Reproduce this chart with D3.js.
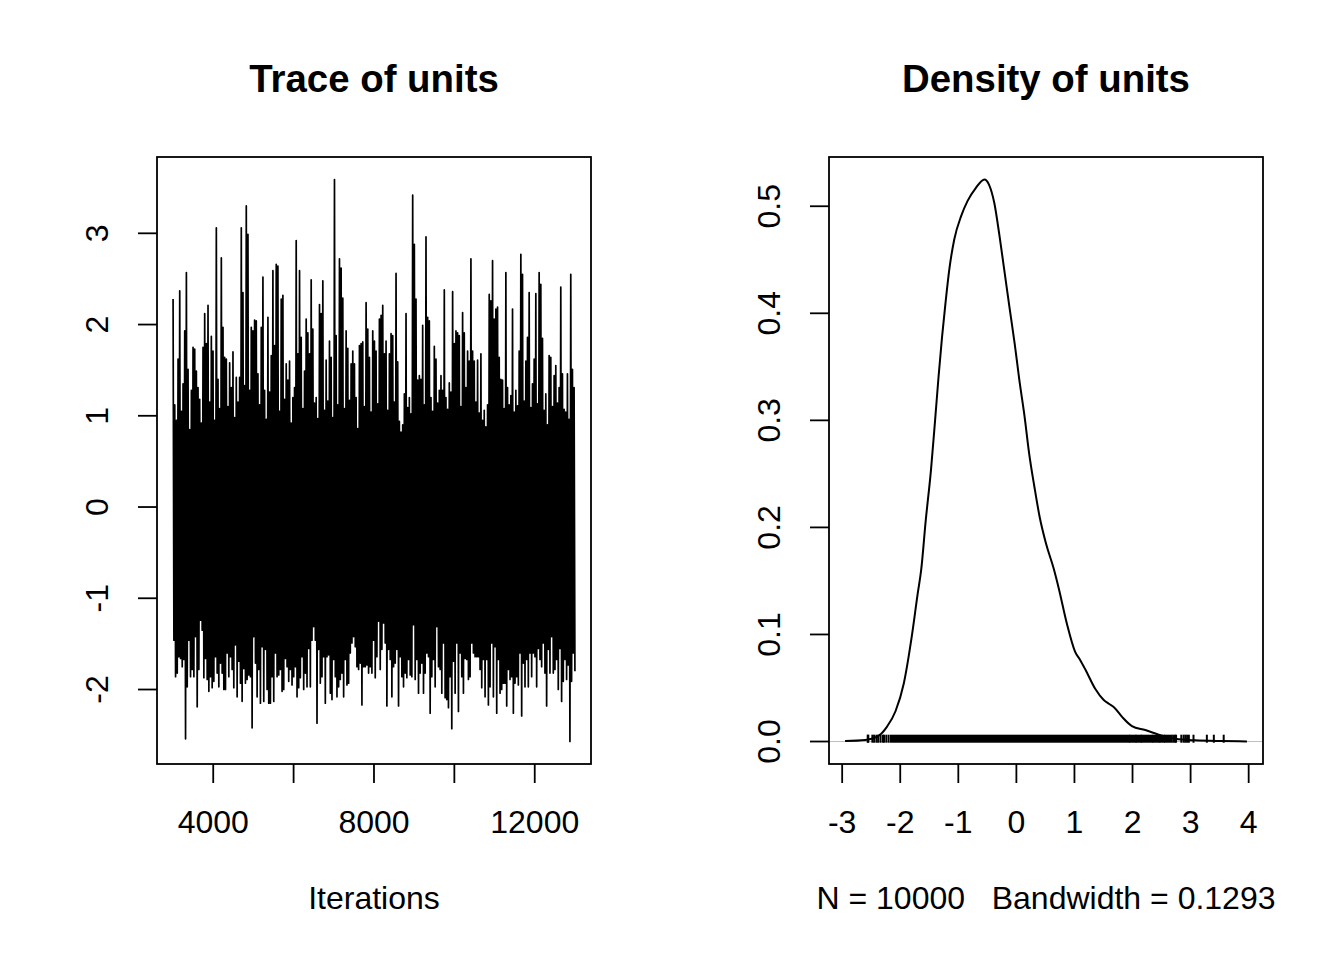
<!DOCTYPE html>
<html><head><meta charset="utf-8">
<script src="https://cdn.jsdelivr.net/npm/d3@7"></script>
<style>
body{margin:0;background:#fff}
text{font-family:"Liberation Sans",Arial,Helvetica,sans-serif;fill:#000}
</style>
</head><body>
<svg id="c" width="1344" height="960"></svg>
<script>
// ---------- DATA ----------
// Trace of units: upper and lower excursions read per column (thinned trace)
const traceHigh = [
2.28,1.12,0.95,1.62,2.37,1.05,1.35,1.93,2.57,1.51,
0.85,1.28,1.75,1.73,1.49,1.31,1.18,0.92,1.75,2.12,
1.79,2.21,1.15,1.87,1.71,0.95,3.06,1.40,1.08,2.73,
1.97,1.64,1.62,1.10,1.58,1.31,1.70,0.98,1.42,1.15,
1.42,3.06,2.35,1.33,3.30,2.99,1.28,1.97,1.93,2.05,
2.04,1.46,1.12,1.97,2.52,1.28,0.96,2.08,1.26,1.66,
2.59,1.77,2.66,2.64,1.05,2.28,2.32,1.18,1.57,1.39,
1.60,0.92,1.20,1.31,2.92,1.68,2.59,1.86,1.08,1.49,
2.06,1.91,1.68,2.49,1.95,1.14,1.20,0.97,2.22,2.12,
2.48,1.06,1.61,1.16,1.82,1.64,0.98,3.59,1.88,1.12,
2.72,2.62,2.29,1.08,1.93,1.74,1.17,1.57,1.71,1.57,
1.20,0.86,1.77,1.79,1.81,1.10,2.24,1.95,1.64,1.04,
1.93,1.82,1.71,1.13,2.06,2.10,2.21,1.68,1.82,1.06,
1.68,1.90,1.88,1.15,2.56,1.59,0.94,0.82,0.90,1.24,
2.12,1.09,1.20,1.02,3.42,2.88,2.28,1.39,1.44,1.40,
1.99,1.12,2.96,2.08,2.04,1.20,1.05,1.76,1.62,1.14,
1.28,1.44,1.28,2.38,1.20,1.07,1.36,1.26,2.36,1.79,
1.93,1.91,1.88,1.10,2.13,1.91,1.31,1.71,1.60,2.72,
1.71,1.60,1.15,1.61,1.03,1.68,0.95,1.06,0.88,1.12,
2.33,2.26,2.70,2.06,2.17,2.19,1.64,1.40,1.39,1.08,
2.57,1.31,1.12,1.22,2.17,1.04,1.28,1.11,1.71,2.77,
2.55,1.16,1.60,1.86,2.35,1.09,1.35,1.62,2.34,1.13,
2.57,2.44,1.85,1.06,1.24,0.90,1.66,1.64,1.10,1.44,
1.55,1.14,1.31,2.41,1.46,1.07,1.04,1.46,0.96,2.55,
1.51,1.31
];
const traceLow = [
-1.46,-1.86,-1.82,-1.64,-1.66,-1.75,-1.67,-2.54,-1.97,-1.46,
-1.86,-1.78,-1.86,-1.42,-2.19,-1.78,-1.24,-1.35,-1.87,-1.66,
-1.89,-2.02,-1.86,-1.98,-1.91,-1.64,-1.82,-1.97,-1.71,-1.82,
-2.00,-2.00,-1.60,-1.86,-1.64,-1.78,-1.98,-1.51,-2.08,-1.69,
-1.93,-2.13,-1.77,-1.93,-1.89,-1.84,-1.86,-2.42,-1.42,-1.71,
-2.08,-1.78,-2.15,-1.53,-2.13,-1.56,-2.00,-2.15,-2.15,-1.86,
-2.13,-1.60,-1.86,-1.84,-1.78,-2.02,-2.00,-1.66,-1.75,-1.91,
-1.78,-1.95,-1.86,-1.75,-2.08,-1.98,-1.87,-1.64,-2.00,-1.82,
-1.97,-1.55,-1.97,-1.46,-1.31,-1.46,-2.37,-1.56,-1.93,-1.86,
-1.64,-2.15,-1.64,-1.62,-2.04,-2.11,-1.67,-1.86,-2.08,-1.97,
-1.89,-1.82,-2.08,-1.67,-1.95,-1.93,-1.60,-1.49,-1.42,-1.53,
-1.75,-1.78,-1.71,-2.17,-1.75,-1.75,-1.73,-1.82,-1.75,-1.82,
-1.46,-1.87,-1.64,-1.25,-1.78,-1.56,-1.27,-1.49,-2.18,-1.56,
-1.67,-2.08,-1.75,-1.71,-1.56,-2.18,-1.64,-1.86,-1.97,-1.82,
-1.87,-1.67,-1.84,-1.86,-1.29,-1.89,-1.67,-2.04,-1.82,-1.71,
-2.04,-1.82,-1.60,-1.64,-2.26,-1.86,-1.67,-1.97,-1.31,-1.75,
-1.78,-2.04,-1.49,-2.09,-2.11,-2.20,-1.86,-2.43,-1.69,-2.04,
-1.49,-2.24,-1.60,-1.86,-2.04,-1.66,-1.67,-1.89,-1.86,-1.49,
-1.60,-1.64,-1.64,-1.64,-1.78,-1.98,-1.67,-2.08,-1.67,-2.17,
-1.97,-1.49,-2.08,-1.53,-2.26,-1.67,-2.04,-2.00,-1.93,-1.93,
-2.18,-1.78,-1.89,-1.86,-2.26,-1.93,-1.86,-1.95,-1.60,-2.29,
-1.71,-1.97,-1.67,-1.97,-1.60,-1.86,-1.60,-1.64,-1.97,-1.55,
-1.67,-1.75,-1.49,-1.82,-2.18,-1.56,-1.82,-1.42,-1.82,-1.78,
-1.67,-2.00,-1.55,-2.13,-1.91,-1.67,-1.89,-1.73,-2.57,-1.91,
-1.60,-1.80
];
const iterStart = 3001, iterEnd = 13000;
const traceXTicks = [4000, 6000, 8000, 10000, 12000];
const traceXLabels = ["4000", "", "8000", "", "12000"];
const traceYTicks = [-2, -1, 0, 1, 2, 3];
const traceYLabels = ["-2", "-1", "0", "1", "2", "3"];

// Density of units
const densX = [-2.95,-2.60,-2.37,-2.23,-2.08,-1.94,-1.80,-1.70,-1.64,-1.56,-1.47,-1.40,-1.34,-1.28,-1.22,-1.155,-1.07,-0.95,-0.84,-0.70,-0.55,-0.47,-0.38,-0.29,-0.21,-0.12,-0.03,0.05,0.14,0.22,0.31,0.40,0.51,0.64,0.73,0.87,1.01,1.10,1.19,1.36,1.50,1.60,1.68,1.82,1.99,2.22,2.51,2.74,3.08,3.54,3.97];
const densY = [0.0005,0.0015,0.0055,0.0137,0.0285,0.054,0.0987,0.138,0.160,0.207,0.254,0.300,0.341,0.378,0.410,0.441,0.469,0.491,0.505,0.517,0.525,0.520,0.503,0.472,0.441,0.406,0.372,0.338,0.304,0.269,0.238,0.210,0.185,0.162,0.143,0.110,0.084,0.076,0.067,0.049,0.039,0.035,0.032,0.023,0.0144,0.0107,0.0055,0.0026,0.0011,0.0004,0.0001];
const densXTicks = [-3, -2, -1, 0, 1, 2, 3, 4];
const densXLabels = ["-3", "-2", "-1", "0", "1", "2", "3", "4"];
const densYTicks = [0, 0.1, 0.2, 0.3, 0.4, 0.5];
const densYLabels = ["0.0", "0.1", "0.2", "0.3", "0.4", "0.5"];
const rugSparse = [-2.56,-2.55,-2.48,-2.45,-2.41,-2.38,-2.34,-2.30,-2.28,-2.24,-2.20,
                   2.70,2.73,2.75,2.84,2.88,2.91,2.94,2.97,3.05,3.28,3.40,3.57];
const rugDense = [[-2.16,1.94],[1.96,2.05],[2.07,2.14],[2.16,2.34],[2.36,2.46],[2.48,2.54],[2.56,2.67]];
const nObs = 10000, bandwidth = 0.1293;
const titles = ["Trace of units", "Density of units"];

// ---------- LAYOUT ----------
const svg = d3.select("#c");
const P1 = {l:157, r:591, t:157, b:764};
const P2 = {l:829, r:1263, t:157, b:764};
const LW = 1.8, TICK = 19, FS = 32;
const pad = e => { const d = e[1]-e[0]; return [e[0]-0.04*d, e[1]+0.04*d]; };

function box(P){
  svg.append("rect").attr("x",P.l).attr("y",P.t).attr("width",P.r-P.l).attr("height",P.b-P.t)
    .attr("fill","none").attr("stroke","#000").attr("stroke-width",LW);
}
function xAxis(P, x, ticks, labels){
  const g = svg.append("g");
  g.selectAll("line").data(ticks).join("line")
    .attr("x1",d=>x(d)).attr("x2",d=>x(d)).attr("y1",P.b).attr("y2",P.b+TICK)
    .attr("stroke","#000").attr("stroke-width",LW);
  g.selectAll("text").data(ticks).join("text")
    .attr("x",d=>x(d)).attr("y",P.b+69).attr("text-anchor","middle")
    .attr("font-size",FS).text((d,i)=>labels[i]);
}
function yAxis(P, y, ticks, labels){
  const g = svg.append("g");
  g.selectAll("line").data(ticks).join("line")
    .attr("x1",P.l).attr("x2",P.l-TICK).attr("y1",d=>y(d)).attr("y2",d=>y(d))
    .attr("stroke","#000").attr("stroke-width",LW);
  g.selectAll("text").data(ticks).join("text")
    .attr("transform",d=>`translate(${P.l-49},${y(d)}) rotate(-90)`)
    .attr("text-anchor","middle").attr("font-size",FS).text((d,i)=>labels[i]);
}
function title(P, s){
  svg.append("text").attr("x",(P.l+P.r)/2).attr("y",92).attr("text-anchor","middle")
    .attr("font-size",38.4).attr("font-weight","bold").text(s);
}
function xlab(P, s){
  svg.append("text").attr("x",(P.l+P.r)/2).attr("y",909).attr("text-anchor","middle")
    .attr("font-size",FS).style("white-space","pre").attr("xml:space","preserve").text(s);
}

// ---------- TRACE ----------
const N = traceHigh.length;
const step = (iterEnd - iterStart) / (N - 0.5);
const pts = [];
for (let i = 0; i < N; i++) {
  pts.push([iterStart + i*step, traceHigh[i]]);
  pts.push([iterStart + (i+0.5)*step, traceLow[i]]);
}
const x1 = d3.scaleLinear().domain(pad([iterStart, iterEnd])).range([P1.l, P1.r]);
const y1 = d3.scaleLinear().domain(pad([d3.min(traceLow), d3.max(traceHigh)])).range([P1.b, P1.t]);
svg.append("path").datum(pts)
  .attr("d", d3.line().x(d=>x1(d[0])).y(d=>y1(d[1])))
  .attr("fill","none").attr("stroke","#000").attr("stroke-width",1.7).attr("stroke-linejoin","round");
box(P1);
xAxis(P1, x1, traceXTicks, traceXLabels);
yAxis(P1, y1, traceYTicks, traceYLabels);
title(P1, titles[0]);
xlab(P1, "Iterations");

// ---------- DENSITY ----------
const x2 = d3.scaleLinear().domain(pad(d3.extent(densX))).range([P2.l, P2.r]);
const y2 = d3.scaleLinear().domain(pad([0, d3.max(densY)])).range([P2.b, P2.t]);
svg.append("line").attr("x1",P2.l).attr("x2",P2.r).attr("y1",y2(0)).attr("y2",y2(0))
  .attr("stroke","#bebebe").attr("stroke-width",1);
svg.append("path").datum(densX.map((v,i)=>[v, densY[i]]))
  .attr("d", d3.line().x(d=>x2(d[0])).y(d=>y2(d[1])).curve(d3.curveMonotoneX))
  .attr("fill","none").attr("stroke","#000").attr("stroke-width",2);
const rugTop = y2(d3.max(densY)/100) - 1.2, rugBot = y2(0) + 1.2;
svg.append("g").selectAll("line").data(rugSparse).join("line")
  .attr("x1",d=>x2(d)).attr("x2",d=>x2(d)).attr("y1",rugTop).attr("y2",rugBot)
  .attr("stroke","#000").attr("stroke-width",2);
svg.append("g").selectAll("rect").data(rugDense).join("rect")
  .attr("x",d=>x2(d[0])-1).attr("width",d=>x2(d[1])-x2(d[0])+2)
  .attr("y",rugTop).attr("height",rugBot-rugTop).attr("fill","#000");
box(P2);
xAxis(P2, x2, densXTicks, densXLabels);
yAxis(P2, y2, densYTicks, densYLabels);
title(P2, titles[1]);
xlab(P2, `N = ${nObs}   Bandwidth = ${bandwidth}`);
</script>
</body></html>
